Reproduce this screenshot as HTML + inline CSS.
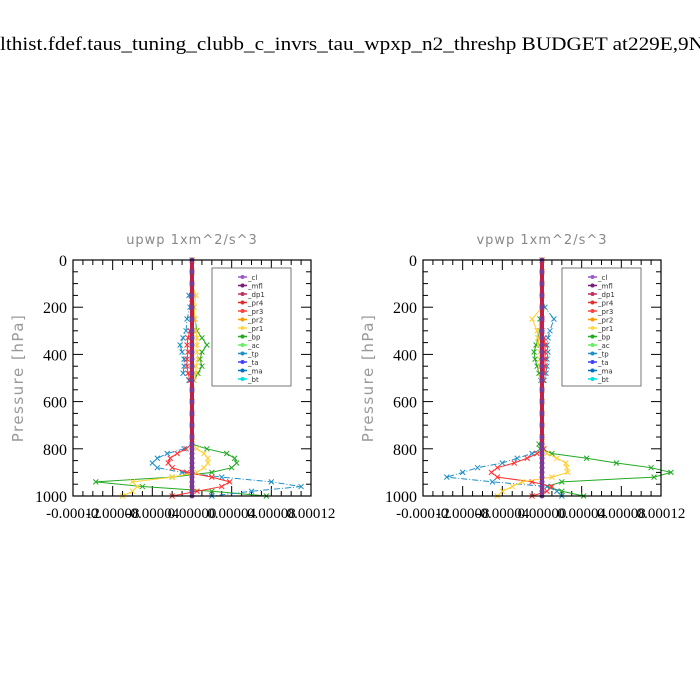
<!DOCTYPE html>
<html><head><meta charset="utf-8"><style>
html,body{margin:0;padding:0;background:#fff;width:700px;height:700px;overflow:hidden}
svg{display:block}
</style></head><body>
<svg id="root" width="700" height="700" xmlns="http://www.w3.org/2000/svg">
<text x="0" y="50" font-family="Liberation Serif, serif" font-size="19" textLength="704" lengthAdjust="spacingAndGlyphs">lthist.fdef.taus_tuning_clubb_c_invrs_tau_wpxp_n2_threshp  BUDGET at229E,9N</text>
</svg>
<script>
const levels=[0,50,100,150,200,250,300,330,360,390,420,450,480,510,550,600,650,700,750,780,800,820,840,860,880,900,920,940,960,980,1000];
// values in units of 1e-5 m^2/s^3
const upBp=[0,0,0,0,0.2,0.3,0.5,1.0,1.5,1.0,0.8,1.0,0.6,0.2,0,0,0,0,0,0,1.5,3.5,4.3,4.5,4.0,2.0,-2,-9.7,-5,2,7.5];
const upTp=[0,0,0,-0.3,-0.2,-0.5,-0.6,-0.9,-1.2,-1.0,-0.8,-0.8,-0.9,-0.3,0,0,0,0,0,0,-0.8,-2.5,-3.5,-4,-3.5,-1,3,8,11,6,2];
const upPr3=[0,0,0,0,0,0,-0.2,-0.4,-0.5,-0.4,-0.5,-0.5,-0.4,-0.2,0,0,0,0,0,0,-0.6,-1.5,-2.2,-2.4,-2,-0.5,2,3.8,3,0.5,-2];
const upPr1=[0,0,0,0.4,0.2,0.3,0.4,0.5,0.5,0.5,0.6,0.4,0.4,0.2,0,0,0,0,0,0,0.5,1.2,1.6,1.6,1.2,0.5,-2,-6,-5.5,-6,-7];
const vpBp=[0,0,0,0,0,-0.2,-0.2,-0.4,-0.6,-0.8,-0.7,-0.5,-0.3,-0.1,0,0,0,0,0,-0.3,-0.2,1,4.5,7.5,11,13,11.3,2,0.5,2,4.2];
const vpTp=[0,0,0,0,0.3,1.2,0.8,0.6,0.5,0.6,0.5,0.5,0.4,0.2,0,0,0,0,0,0,0,-1,-2.5,-4,-6.5,-8,-9.6,-5,0.5,1.5,2];
const vpPr3=[0,0,0,0,0,0,0,0.2,0.3,0.3,0.3,0.3,0.2,0.1,0,0,0,0,0,0,0.2,-0.5,-1.5,-2.8,-4.5,-5.1,-4.5,-1,1,0.5,-1];
const vpPr1=[0,0,0,0,0,-1,-0.5,-0.4,-0.3,-0.2,-0.2,-0.2,-0.1,0,0,0,0,0,0,0,0,0.5,1.5,2.4,2.5,2.6,1,-2,-3,-4,-4.5];
const xTicks=["-0.00012","-0.00008","-0.00004","0.00000","0.00004","0.00008","0.00012"];
const yTicks=[0,200,400,600,800,1000];
const legendNames=["_cl","_mfl","_dp1","_pr4","_pr3","_pr2","_pr1","_bp","_ac","_tp","_ta","_ma","_bt"];
const legendColors=["#9a5bc4","#7a1a7a","#c0305a","#e03030","#ff4040","#ff9900","#ffd84a","#22aa22","#66ee66","#1e8fc8","#4040ff","#0070c0","#00e0e0"];
const NS="http://www.w3.org/2000/svg";
const root=document.getElementById('root');
function mk(tag,attrs,parent){const e=document.createElementNS(NS,tag);for(const k in attrs)e.setAttribute(k,attrs[k]);(parent||root).appendChild(e);return e;}
function panel(px,title,series,pid){
  const L=px,R=px+238,T=260,B=496;
  const g=mk('g',{});
  
  
  const xs=v=>L+(v+12)/24*(R-L);
  const ys=p=>T+p/1000*(B-T);
  const t=mk('text',{x:(L+R)/2,y:244,'text-anchor':'middle','font-family':'DejaVu Sans, sans-serif','font-size':13,fill:'#888','letter-spacing':'1'},g);
  t.textContent=title;
  
  
  const yt=mk('text',{x:0,y:0,transform:`translate(${L-50},378) rotate(-90)`,'text-anchor':'middle','font-family':'DejaVu Sans, sans-serif','font-size':15,fill:'#999','letter-spacing':'1.5'},g);
  yt.textContent="Pressure [hPa]";
  
  
  for(let p=0;p<=1000;p+=50){const big=p%200===0;const len=big?10:5;
    mk('line',{x1:L,x2:L+len,y1:ys(p),y2:ys(p),stroke:'#000'},g);
    mk('line',{x1:R,x2:R-len,y1:ys(p),y2:ys(p),stroke:'#000'},g);}
  yTicks.forEach(p=>{const tx=mk('text',{x:L-6,y:ys(p)+6,'text-anchor':'end','font-family':'Liberation Serif, serif','font-size':16},g);tx.textContent=p;
    
    });
  for(let v=-12;v<=12;v+=1){const big=v%4===0;const len=big?10:5;
    mk('line',{x1:xs(v),x2:xs(v),y1:B,y2:B-len,stroke:'#000'},g);
    mk('line',{x1:xs(v),x2:xs(v),y1:T,y2:T+len,stroke:'#000'},g);}
  xTicks.forEach((s,i)=>{const v=-12+i*4;const tx=mk('text',{x:xs(v),y:518,'text-anchor':'middle','font-family':'Liberation Serif, serif','font-size':15},g);tx.textContent=s;
    
    });
  series.forEach(s=>{
    const pts=levels.map((p,i)=>xs(s.v[i])+','+ys(p)).join(' ');
    const pl=mk('polyline',{points:pts,fill:'none',stroke:s.c,'stroke-width':1,'stroke-dasharray':s.d||'none'},g);
    
    
    levels.forEach((p,i)=>{const x=xs(s.v[i]),y=ys(p);
      mk('path',{d:`M${x-2.5},${y-2.5}L${x+2.5},${y+2.5}M${x-2.5},${y+2.5}L${x+2.5},${y-2.5}`,stroke:s.c,'stroke-width':1},g);});
  });
  const z=mk('line',{x1:xs(0),x2:xs(0),y1:T,y2:B,stroke:'#c0204a','stroke-width':4},g);
  
  
  levels.forEach(p=>mk('circle',{cx:xs(0),cy:ys(p),r:2.5,fill:'#7a3a9a'},g));
  mk('rect',{x:L,y:T,width:R-L,height:B-T,fill:'none',stroke:'#000','stroke-width':1.2},g);
  const lx=L+139;
  const lg=mk('g',{},g);
  
  
  mk('rect',{x:lx,y:268,width:79,height:118,fill:'#fff',stroke:'#555','stroke-width':0.8},lg);
  legendNames.forEach((n,i)=>{const y=277+i*8.5;
    mk('line',{x1:lx+26,x2:lx+35,y1:y,y2:y,stroke:legendColors[i],'stroke-width':1.5},lg);
    mk('circle',{cx:lx+30.5,cy:y,r:2,fill:legendColors[i]},lg);
    const tx=mk('text',{x:lx+36,y:y+3,'font-family':'DejaVu Sans, sans-serif','font-size':7,fill:'#333'},lg);tx.textContent=n;
    
    });
}
panel(73,"upwp  1xm^2/s^3",[
 {n:'-bp',v:upBp,c:'#22aa22'},{n:'-tp',v:upTp,c:'#1e8fc8',d:'6,2,1,2'},
 {n:'-pr3',v:upPr3,c:'#ff3030'},{n:'-pr1',v:upPr1,c:'#ffd030'}],'upwp');
panel(423,"vpwp  1xm^2/s^3",[
 {n:'-bp',v:vpBp,c:'#22aa22'},{n:'-tp',v:vpTp,c:'#1e8fc8',d:'6,2,1,2'},
 {n:'-pr3',v:vpPr3,c:'#ff3030'},{n:'-pr1',v:vpPr1,c:'#ffd030'}],'vpwp');
</script>
</body></html>
